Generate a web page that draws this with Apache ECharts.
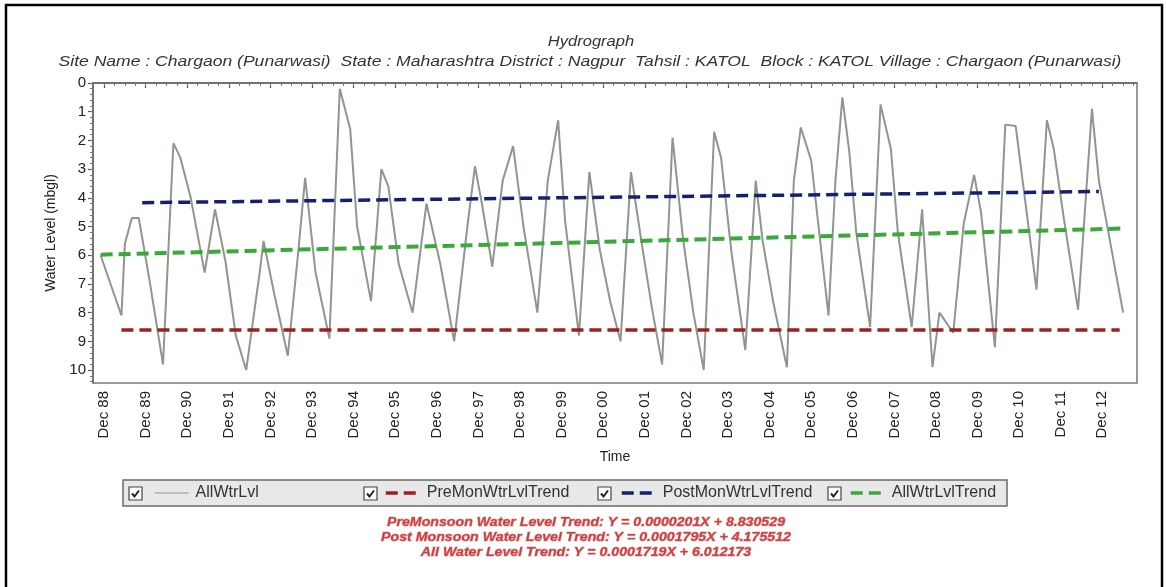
<!DOCTYPE html>
<html>
<head>
<meta charset="utf-8">
<title>Hydrograph</title>
<script src="https://cdn.jsdelivr.net/npm/echarts@6/dist/echarts.min.js"></script>
<style>
  html, body { margin: 0; padding: 0; background: #fff; }
  #chart { width: 1167px; height: 587px; }
</style>
</head>
<body>
<div id="chart"></div>
<script>
// Observed water levels (metres below ground level), by month of measurement
const obsDates = [
  '1988-11','1989-05','1989-06','1989-08','1989-10','1990-01','1990-05','1990-08','1990-10',
  '1991-01','1991-05','1991-08','1991-11','1992-02','1992-05','1992-09','1992-10',
  '1993-01','1993-05','1993-08','1993-10','1994-01','1994-05','1994-08','1994-11',
  '1995-01','1995-05','1995-08','1995-10','1996-01','1996-05','1996-09',
  '1997-01','1997-05','1997-09','1997-11','1998-01','1998-04','1998-07','1998-10',
  '1999-01','1999-05','1999-08','1999-11','2000-01','2000-05','2000-08','2000-11',
  '2001-02','2001-05','2001-08','2001-11','2002-02','2002-05','2002-08','2002-11',
  '2003-02','2003-05','2003-08','2003-10','2004-01','2004-05','2004-08','2004-10',
  '2005-01','2005-05','2005-07','2005-09','2005-12','2006-05','2006-07','2006-09',
  '2006-11','2007-01','2007-05','2007-07','2007-08','2007-11','2008-01','2008-05',
  '2008-08','2008-11','2009-01','2009-05','2009-08','2009-11','2010-01','2010-05',
  '2010-08','2010-11','2011-05','2011-08','2011-10','2012-01','2012-05','2012-09',
  '2012-11','2013-06'
];
const obsLevels = [
  6.0, 8.1, 5.6, 4.7, 4.7, 6.8, 9.8, 2.1, 2.6,
  4.0, 6.6, 4.4, 6.2, 8.8, 10.0, 6.5, 5.5,
  7.3, 9.5, 5.9, 3.3, 6.6, 8.9, 0.2, 1.6,
  5.0, 7.6, 3.0, 3.6, 6.3, 8.0, 4.2,
  6.3, 9.0, 4.8, 2.9, 4.2, 6.4, 3.4, 2.2,
  5.0, 8.0, 3.4, 1.3, 4.8, 8.8, 3.1, 5.8,
  7.6, 9.0, 3.1, 5.5, 7.8, 9.8, 1.9, 5.4,
  8.0, 10.0, 1.7, 2.6, 5.9, 9.3, 3.4, 5.5,
  7.6, 9.9, 3.4, 1.55, 2.7, 8.1, 3.4, 0.5,
  2.4, 5.2, 8.5, 3.4, 0.75, 2.3, 5.2, 8.5,
  4.4, 9.9, 8.0, 8.7, 4.9, 3.2, 4.5, 9.2,
  1.45, 1.5, 7.2, 1.3, 2.3, 4.8, 7.9, 0.9,
  3.4, 8.0
];

// Linear trend lines (start and end of each fitted period)
const preMonTrendDates = ['1989-05', '2013-05'];
const preMonTrendLevels = [8.6, 8.6];
const postMonTrendDates = ['1989-11', '2012-11'];
const postMonTrendLevels = [4.17, 3.78];
const allTrendDates = ['1988-11', '2013-06'];
const allTrendLevels = [5.98, 5.07];

// Axis tick labels: one per December
const tickYears = [1988,1989,1990,1991,1992,1993,1994,1995,1996,1997,1998,1999,
                   2000,2001,2002,2003,2004,2005,2006,2007,2008,2009,2010,2011,2012];
const yTickValues = [0,1,2,3,4,5,6,7,8,9,10];

const seriesNames = ['AllWtrLvl', 'PreMonWtrLvlTrend', 'PostMonWtrLvlTrend', 'AllWtrLvlTrend'];

const titleText = 'Hydrograph';
const subtitleText = 'Site Name : Chargaon (Punarwasi)  State : Maharashtra District : Nagpur  Tahsil : KATOL  Block : KATOL Village : Chargaon (Punarwasi)';
const equations = [
  'PreMonsoon Water Level Trend: Y = 0.0000201X + 8.830529',
  'Post Monsoon Water Level Trend: Y = 0.0001795X + 4.175512',
  'All Water Level Trend: Y = 0.0001719X + 6.012173'
];

// 'YYYY-MM' -> decimal year
function toYear(s) {
  const p = s.split('-').map(Number);
  return p[0] + (p[1] - 1) / 12;
}
function pairs(dates, levels) {
  return dates.map((d, i) => [toYear(d), levels[i]]);
}

const decTicks = tickYears.map(y => y + 11 / 12);
const quarterTicks = [];
decTicks.forEach(t => { for (let k = -3; k <= 3; k++) quarterTicks.push(t + k * 0.25); });
const yMinorTicks = [];
for (let i = 0; i <= 52; i++) yMinorTicks.push(i * 0.2);

const FONT = 'Liberation Sans, Arial, sans-serif';
const X_MIN = 1988.65, X_MAX = 2013.75;

const chart = echarts.init(document.getElementById('chart'), null, { renderer: 'canvas' });

function checkbox(x, y) {
  return {
    type: 'group', x: x, y: y, z: 5,
    children: [
      { type: 'rect', shape: { x: 0, y: 0, width: 13, height: 13 },
        style: { fill: '#fff', stroke: '#444', lineWidth: 1.2 } },
      { type: 'polyline', shape: { points: [[3, 6.5], [5.5, 9.5], [10, 3.5]] },
        style: { fill: null, stroke: '#222', lineWidth: 2 } }
    ]
  };
}

const legendLefts = [154, 384, 620, 849];
const legendCheckX = [129, 364, 598, 828];
const legendLineWidths = [1.2, 3.5, 3.5, 3.5];

const option = {
  backgroundColor: '#fff',
  animation: false,
  grid: {
    left: 93, top: 83, width: 1044, height: 300,
    show: true, borderColor: '#7a7a7a', borderWidth: 1.5, backgroundColor: '#fff'
  },
  xAxis: [
    {
      type: 'value', min: X_MIN, max: X_MAX, position: 'bottom',
      name: 'Time', nameLocation: 'middle', nameGap: 67,
      nameTextStyle: { fontFamily: FONT, fontSize: 14, color: '#222' },
      axisLine: { show: true, lineStyle: { color: '#666', width: 1.5 } },
      axisTick: { show: true, customValues: decTicks, length: 5, lineStyle: { color: '#555', width: 1.2 } },
      axisLabel: {
        customValues: decTicks, rotate: 90, margin: 8,
        fontFamily: FONT, fontSize: 15, color: '#222',
        formatter: v => 'Dec ' + String(Math.round(v - 11 / 12)).slice(2)
      },
      splitLine: { show: false }
    },
    {
      type: 'value', min: X_MIN, max: X_MAX, position: 'bottom',
      axisLine: { show: false },
      axisTick: { show: true, customValues: quarterTicks, length: 3, lineStyle: { color: '#777', width: 1 } },
      axisLabel: { show: false },
      splitLine: { show: false }
    }
  ],
  yAxis: [
    {
      type: 'value', min: 0, max: 10.45, inverse: true, position: 'left',
      name: 'Water Level (mbgl)', nameLocation: 'middle', nameGap: 30,
      nameTextStyle: { fontFamily: FONT, fontSize: 14, color: '#222' },
      axisLine: { show: true, lineStyle: { color: '#666', width: 1.5 } },
      axisTick: { show: true, customValues: yTickValues, length: 5, lineStyle: { color: '#555', width: 1.2 } },
      axisLabel: { customValues: yTickValues, margin: 7, fontFamily: FONT, fontSize: 15, color: '#222' },
      splitLine: { show: false }
    },
    {
      type: 'value', min: 0, max: 10.45, inverse: true, position: 'left',
      axisLine: { show: false },
      axisTick: { show: true, customValues: yMinorTicks, length: 3, lineStyle: { color: '#777', width: 1 } },
      axisLabel: { show: false },
      splitLine: { show: false }
    }
  ],
  legend: seriesNames.map((n, i) => ({
    data: [n], left: legendLefts[i], top: 485, padding: 0,
    itemWidth: 34, itemHeight: 16, itemGap: 0,
    itemStyle: { opacity: 0 },
    lineStyle: { width: legendLineWidths[i] },
    textStyle: { fontFamily: FONT, fontSize: 16, color: '#333', padding: [0, 0, 0, 2] }
  })),
  series: [
    {
      name: seriesNames[0], type: 'line', xAxisIndex: 0, yAxisIndex: 0,
      data: pairs(obsDates, obsLevels), symbol: 'none', z: 2,
      lineStyle: { color: '#8d978d', width: 2 }, itemStyle: { color: '#8d978d' }
    },
    {
      name: seriesNames[1], type: 'line', xAxisIndex: 0, yAxisIndex: 0,
      data: pairs(preMonTrendDates, preMonTrendLevels), symbol: 'none', z: 3,
      lineStyle: { color: '#9e1f1f', width: 3.5, type: [12, 6] }, itemStyle: { color: '#9e1f1f' }
    },
    {
      name: seriesNames[2], type: 'line', xAxisIndex: 0, yAxisIndex: 0,
      data: pairs(postMonTrendDates, postMonTrendLevels), symbol: 'none', z: 3,
      lineStyle: { color: '#17206e', width: 3.5, type: [12, 6] }, itemStyle: { color: '#17206e' }
    },
    {
      name: seriesNames[3], type: 'line', xAxisIndex: 0, yAxisIndex: 0,
      data: pairs(allTrendDates, allTrendLevels), symbol: 'none', z: 3,
      lineStyle: { color: '#3aa83a', width: 4, type: [12, 6] }, itemStyle: { color: '#3aa83a' }
    }
  ],
  graphic: [
    { type: 'rect', z: -10, silent: true,
      shape: { x: 6, y: 5, width: 1156, height: 610 },
      style: { fill: 'none', stroke: '#000', lineWidth: 2.5 } },
    { type: 'text', x: 591, y: 42, z: 5, scaleX: 1.18,
      style: { text: titleText, font: 'italic 14px ' + FONT, fill: '#333', align: 'center', verticalAlign: 'middle' } },
    { type: 'text', x: 590, y: 62, z: 5, scaleX: 1.17,
      style: { text: subtitleText, font: 'italic 15px ' + FONT, fill: '#333', align: 'center', verticalAlign: 'middle' } },
    { type: 'rect', z: 0, silent: true,
      shape: { x: 123, y: 480, width: 884, height: 26 },
      style: { fill: '#e8e8e8', stroke: '#6a6a6a', lineWidth: 1.5 } },
    ...legendCheckX.map(x => checkbox(x, 487)),
    ...equations.map((t, i) => ({
      type: 'text', x: 586, y: 522 + i * 15, z: 5, scaleX: 1.09,
      style: { text: t, font: 'italic bold 13px ' + FONT, fill: '#d63c3c',
               stroke: 'rgba(150,30,30,0.35)', lineWidth: 1, align: 'center', verticalAlign: 'middle' }
    }))
  ]
};

chart.setOption(option);
</script>
</body>
</html>
